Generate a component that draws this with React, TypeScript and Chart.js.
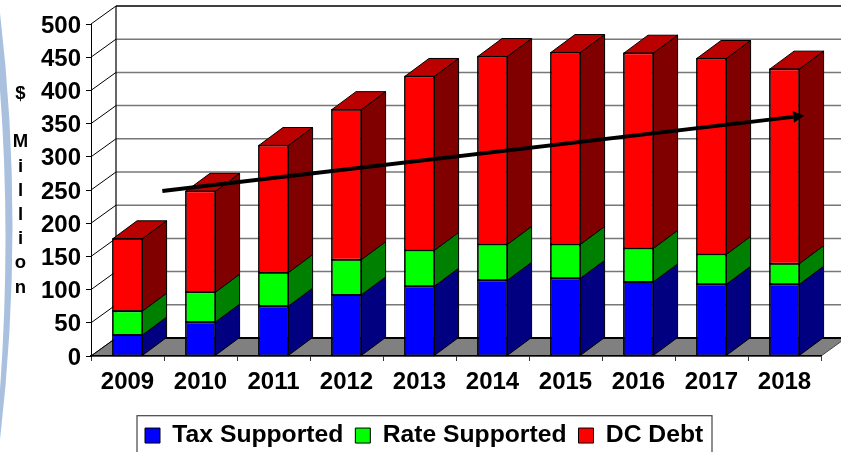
import React, { useEffect, useRef } from "react";
import { Chart, registerables } from "chart.js";

Chart.register(...registerables);

const years = ["2009", "2010", "2011", "2012", "2013", "2014", "2015", "2016", "2017", "2018"];
const taxSupported = [31.5, 51, 75, 92, 105, 114, 117, 111.5, 108, 108];
const rateSupported = [36, 45, 50.5, 53, 54, 54, 51, 50.5, 45, 31];
const dcDebt = [109, 152, 191.5, 226, 262, 283, 289, 294, 295, 293];
const trendX = [0.477, 9.27];
const trendY = [248.5, 362];
const axisLetters = ["$", "", "M", "i", "l", "l", "i", "o", "n"];

const FONT = "'Liberation Sans', Arial, sans-serif";
const WALL_DX = 25;
const WALL_DY = 18;
const BAR_DX = 24.3;
const BAR_DY = 18;
const SIDE_COLORS = ["#000080", "#008000", "#800000"];
const TOP_COLOR = "#BB0000";

const scene3d = {
  id: "scene3d",
  afterLayout(chart: any) {
    chart.legend.left = 133;
    chart.legend.top = 411.2;
  },
  beforeDraw(chart: any) {
    const { ctx, chartArea: a, scales } = chart;
    const y = scales.y;
    const W = chart.width;
    ctx.save();
    ctx.fillStyle = "#fff";
    ctx.fillRect(0, 0, W, chart.height);

    // decorative arc at the page's left edge
    ctx.fillStyle = "#A9C0DE";
    ctx.beginPath();
    ctx.moveTo(0, 13);
    ctx.quadraticCurveTo(25, 225, 0, 440);
    ctx.lineTo(0, 390);
    ctx.quadraticCurveTo(11, 235, 0, 90);
    ctx.closePath();
    ctx.fill();

    // floor
    const y0 = y.getPixelForValue(0);
    ctx.fillStyle = "#808080";
    ctx.strokeStyle = "#444";
    ctx.lineWidth = 1;
    ctx.beginPath();
    ctx.moveTo(a.left, y0);
    ctx.lineTo(a.right, y0);
    ctx.lineTo(a.right + WALL_DX, y0 - WALL_DY);
    ctx.lineTo(a.left + WALL_DX, y0 - WALL_DY);
    ctx.closePath();
    ctx.fill();
    ctx.stroke();

    // back wall grid lines and left wall diagonals
    y.ticks.forEach((t: any) => {
      const p = y.getPixelForValue(t.value);
      const isEnd = t.value === 0 || t.value === y.max;
      ctx.strokeStyle = isEnd ? "#000" : "#777";
      ctx.lineWidth = t.value === 0 ? 2 : 1.5;
      ctx.beginPath();
      ctx.moveTo(a.left + WALL_DX, p - WALL_DY);
      ctx.lineTo(W, p - WALL_DY);
      ctx.stroke();
      ctx.strokeStyle = "#000";
      ctx.lineWidth = 1;
      ctx.beginPath();
      ctx.moveTo(a.left, p);
      ctx.lineTo(a.left + WALL_DX, p - WALL_DY);
      ctx.stroke();
    });
    ctx.strokeStyle = "#000";
    ctx.lineWidth = 1.2;
    ctx.beginPath();
    ctx.moveTo(a.left + WALL_DX, y.getPixelForValue(y.max) - WALL_DY);
    ctx.lineTo(a.left + WALL_DX, y0 - WALL_DY);
    ctx.stroke();

    // stacked axis title
    ctx.fillStyle = "#000";
    ctx.font = `bold 18.5px ${FONT}`;
    ctx.textAlign = "center";
    ctx.textBaseline = "middle";
    axisLetters.forEach((c, i) => ctx.fillText(c, 20.5, 94 + i * 24.2));
    ctx.restore();
  },
  beforeDatasetsDraw(chart: any) {
    const { ctx } = chart;
    ctx.save();
    ctx.strokeStyle = "#000";
    ctx.lineWidth = 1;
    ctx.lineJoin = "round";
    [0, 1, 2].forEach((di) => {
      chart.getDatasetMeta(di).data.forEach((el: any) => {
        const { x, y, base, width } = el.getProps(["x", "y", "base", "width"], true);
        const r = x + width / 2;
        const l = x - width / 2;
        ctx.fillStyle = SIDE_COLORS[di];
        ctx.beginPath();
        ctx.moveTo(r, base);
        ctx.lineTo(r + BAR_DX, base - BAR_DY);
        ctx.lineTo(r + BAR_DX, y - BAR_DY);
        ctx.lineTo(r, y);
        ctx.closePath();
        ctx.fill();
        ctx.stroke();
        if (di === 2) {
          ctx.fillStyle = TOP_COLOR;
          ctx.beginPath();
          ctx.moveTo(l, y);
          ctx.lineTo(r, y);
          ctx.lineTo(r + BAR_DX, y - BAR_DY);
          ctx.lineTo(l + BAR_DX, y - BAR_DY);
          ctx.closePath();
          ctx.fill();
          ctx.stroke();
        }
      });
    });
    ctx.restore();
  },
  afterDatasetsDraw(chart: any) {
    const { ctx, scales } = chart;
    ctx.save();
    // crisp black outlines on the front faces
    ctx.strokeStyle = "#000";
    ctx.lineWidth = 1.2;
    [0, 1, 2].forEach((di) => {
      chart.getDatasetMeta(di).data.forEach((el: any) => {
        const { x, y, base, width } = el.getProps(["x", "y", "base", "width"], true);
        ctx.strokeRect(x - width / 2, y, width, base - y);
      });
    });
    const xs = trendX.map((v) => scales.xTrend.getPixelForValue(v));
    const ys = trendY.map((v) => scales.y.getPixelForValue(v));
    const angle = Math.atan2(ys[1] - ys[0], xs[1] - xs[0]);
    const headLen = 11;
    const headHalf = 6;
    ctx.fillStyle = "#000";
    ctx.lineWidth = 3.8;
    ctx.beginPath();
    ctx.moveTo(xs[0], ys[0]);
    ctx.lineTo(xs[1] - headLen * Math.cos(angle), ys[1] - headLen * Math.sin(angle));
    ctx.stroke();
    ctx.translate(xs[1], ys[1]);
    ctx.rotate(angle);
    ctx.beginPath();
    ctx.moveTo(0, 0);
    ctx.lineTo(-headLen, -headHalf);
    ctx.lineTo(-headLen, headHalf);
    ctx.closePath();
    ctx.fill();
    ctx.restore();
  },
  afterDraw(chart: any) {
    const { ctx, legend } = chart;
    ctx.save();
    ctx.strokeStyle = "#444";
    ctx.lineWidth = 1.2;
    ctx.strokeRect(legend.left + 4, legend.top + 4.5, 575, 60);
    ctx.restore();
  },
};

export default function App() {
  const ref = useRef<HTMLCanvasElement>(null);
  useEffect(() => {
    document.body.style.margin = "0";
    const chart = new Chart(ref.current as HTMLCanvasElement, {
      type: "bar",
      data: {
        labels: years,
        datasets: [
          { label: "Tax Supported", data: taxSupported, backgroundColor: "#0000FF", borderColor: "#000", borderWidth: 1, borderSkipped: false },
          { label: "Rate Supported", data: rateSupported, backgroundColor: "#00FF00", borderColor: "#000", borderWidth: 1, borderSkipped: false },
          { label: "DC Debt", data: dcDebt, backgroundColor: "#FF0000", borderColor: "#000", borderWidth: 1, borderSkipped: false },
        ] as any,
      },
      options: {
        responsive: false,
        animation: false,
        layout: { padding: { left: 0, top: 24, right: 20, bottom: 0 } },
        scales: {
          x: {
            stacked: true,
            afterFit: (s: any) => { s.height = 56; },
            border: { display: true, color: "#000", width: 1.5 },
            grid: { drawOnChartArea: false, drawTicks: true, tickLength: 5, tickColor: "#333" },
            ticks: { color: "#000", padding: 7, maxRotation: 0, autoSkip: false, font: { family: FONT, weight: "bold", size: 24 } },
          },
          xTrend: { type: "linear", display: false, offset: false, min: -0.5, max: 9.5 },
          y: {
            stacked: true,
            min: 0,
            max: 500,
            afterFit: (s: any) => { s.width = 91; },
            border: { display: true, color: "#000", width: 1 },
            grid: { drawOnChartArea: false, drawTicks: true, tickLength: 5, tickColor: "#000" },
            ticks: { stepSize: 50, color: "#000", padding: 5, labelOffset: 2, font: { family: FONT, weight: "bold", size: 24 } },
          },
        },
        datasets: { bar: { barPercentage: 0.405, categoryPercentage: 1 } },
        plugins: {
          tooltip: { enabled: false },
          title: { display: false },
          legend: {
            position: "bottom",
            align: "start",
            maxHeight: 40,
            labels: {
              color: "#000",
              boxWidth: 15,
              boxHeight: 15,
              padding: 12,
              font: { family: FONT, weight: "bold", size: 24.7 },
            },
          },
        },
      } as any,
      plugins: [scene3d],
    });
    return () => chart.destroy();
  }, []);
  return (
    <div style={{ width: 841, height: 452, overflow: "hidden" }}>
      <canvas ref={ref} width={841} height={452} style={{ display: "block" }} />
    </div>
  );
}
